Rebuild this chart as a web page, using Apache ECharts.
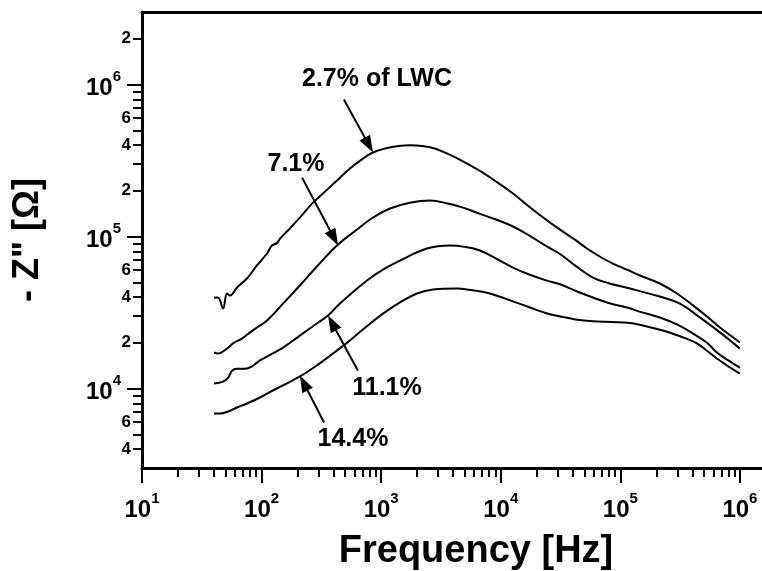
<!DOCTYPE html>
<html>
<head>
<meta charset="utf-8">
<script src="https://cdn.jsdelivr.net/npm/echarts@6/dist/echarts.min.js"></script>
<style>
  html, body { margin: 0; padding: 0; background: #fff; }
  #chart { width: 762px; height: 571px; }
</style>
</head>
<body>
<div id="chart"></div>
<script>
// Impedance spectra (-Z'' vs frequency) for four liquid water contents
const seriesNames = ['2.7% of LWC', '7.1%', '11.1%', '14.4%'];

const lwc27 = [
  [40.0, 39500], [43.2, 39700], [47.6, 33600], [51.4, 42200], [54.4, 40900],
  [62.3, 46200], [75.5, 53000], [91.5, 64500], [111, 77300], [122, 87300],
  [134, 90500], [143, 97000], [166, 109500], [209, 133000], [269, 167000],
  [350, 202000], [450, 243000], [548, 280000], [700, 324000], [854, 357000],
  [1100, 381000], [1400, 394000], [1740, 398000], [2200, 394000], [2800, 379000],
  [3550, 352000], [4700, 316000], [6700, 270000], [9000, 232000], [12650, 192000],
  [17500, 156000], [24300, 128000], [31300, 111000], [42000, 95000], [52600, 83400],
  [70000, 72500], [86700, 66400], [115000, 60300], [146000, 55400], [214000, 49100],
  [297000, 42200], [400000, 35500], [530000, 29800], [681000, 25200], [850000, 22100],
  [1000000, 20100]
];

const lwc71 = [
  [40.0, 17250], [43.2, 17000], [51.4, 18300], [57.7, 19800], [68.5, 21300],
  [80, 23400], [91.5, 25200], [111, 28000], [151, 36200], [209, 47600],
  [290, 63500], [427, 87300], [628, 111200], [854, 133400], [1185, 152900],
  [1740, 167000], [2560, 172500], [3600, 165000], [4830, 155000], [6700, 141000],
  [9000, 130000], [12650, 116400], [17500, 101000], [24300, 86000], [31300, 76700],
  [42000, 64300], [59000, 53700], [80000, 49300], [113600, 46000], [150000, 43400],
  [214000, 40300], [315000, 36200], [463000, 29300], [681000, 23400], [1000000, 18300]
];

const lwc111 = [
  [40.0, 10800], [47.6, 11100], [52.6, 11800], [56.6, 13100], [62.3, 13500],
  [72.9, 13500], [83.3, 14000], [97, 15300], [151, 18600], [209, 22300],
  [290, 26800], [359, 30200], [452, 36200], [761, 51300], [1050, 61000],
  [1436, 69500], [2415, 83400], [3760, 87300], [5000, 85500], [6700, 80900],
  [9000, 72000], [12650, 62500], [17500, 56000], [24300, 51300], [31300, 48500],
  [42000, 44000], [59000, 39700], [80000, 36500], [113600, 34100], [150000, 31800],
  [214000, 29300], [300000, 26300], [405000, 23000], [530000, 20000], [642000, 17250],
  [800000, 15300], [1000000, 13700]
];

const lwc144 = [
  [40.0, 6850], [44.9, 6850], [52.6, 7060], [62.3, 7500], [75.5, 7970],
  [97, 8730], [111, 9270], [151, 10500], [209, 12000], [290, 14200],
  [395, 17000], [548, 20700], [750, 25500], [1035, 31100], [1450, 37000],
  [1992, 42200], [2711, 44800], [4300, 45500], [5800, 44300], [8120, 42200],
  [12000, 38000], [17540, 34100], [24000, 31300], [31300, 29800], [42000, 28500],
  [59000, 27700], [85000, 27400], [120300, 27000], [160000, 25800], [227000, 24100],
  [320000, 22000], [437000, 19800], [642000, 15760], [800000, 14000], [1000000, 12550]
];

// Tick values
const xDecades = [10, 100, 1e3, 1e4, 1e5, 1e6];
const yDecades = [1e4, 1e5, 1e6];
const yMinorLabelValues = [4e3, 6e3, 2e4, 4e4, 6e4, 2e5, 4e5, 6e5, 2e6];

// Callout texts with their arrows (data coordinates)
const callouts = [
  { text: '2.7% of LWC', at: [923, 1.08e6], from: [488, 796000], to: [854, 357000] },
  { text: '7.1%',        at: [194, 298000], from: [218, 244000], to: [436, 87300] },
  { text: '11.1%',       at: [1118, 10000], from: [640, 13100],  to: [359, 30200] },
  { text: '14.4%',       at: [581, 4620],   from: [333, 5970],   to: [209, 12200] }
];

const FONT = '"Liberation Sans", Arial, Helvetica, sans-serif';
const X_MIN = 10, X_MAX = 1.53e6, Y_MIN = 3000, Y_MAX = 3e6;

function minorTicks(lo, hi) {
  const out = [];
  for (let d = lo; d < hi; d *= 10) {
    for (let m = 2; m <= 9; m++) out.push(m * d);
  }
  return out;
}
const xMinor = minorTicks(10, 1e6);
const yMinor = [4e3, 5e3, 6e3, 7e3, 8e3, 9e3].concat(minorTicks(1e4, 1e6), [2e6]);

function powLabel(v) {
  const e = Math.round(Math.log10(v));
  return '{b|10}{s|' + e + '}';
}
function mantissaLabel(v) {
  const e = Math.floor(Math.log10(v) + 1e-9);
  return String(Math.round(v / Math.pow(10, e)));
}

const powRich = {
  b: { fontSize: 24, fontWeight: 'bold', fontFamily: FONT, color: '#000', verticalAlign: 'bottom', lineHeight: 31 },
  s: { fontSize: 15, fontWeight: 'bold', fontFamily: FONT, color: '#000', verticalAlign: 'top', lineHeight: 15 }
};

const black = '#000';

const chart = echarts.init(document.getElementById('chart'), null, { renderer: 'canvas' });

const option = {
  animation: false,
  backgroundColor: '#fff',
  grid: { left: 142, top: 12, right: 0, bottom: 103, show: false, outerBoundsMode: 'none', containLabel: false },
  xAxis: [
    {
      type: 'log', logBase: 10, min: X_MIN, max: X_MAX, position: 'bottom',
      axisLine: { show: true, lineStyle: { color: black, width: 3 } },
      axisTick: { show: true, length: 15, lineStyle: { color: black, width: 2 }, customValues: xDecades },
      axisLabel: { show: true, customValues: xDecades, margin: 23, formatter: powLabel, rich: powRich },
      splitLine: { show: false },
      name: 'Frequency [Hz]', nameLocation: 'middle', nameGap: 65,
      nameTextStyle: { fontSize: 38, fontWeight: 'bold', fontFamily: FONT, color: black, padding: [0, 0, 0, 48] }
    },
    {
      type: 'log', logBase: 10, min: X_MIN, max: X_MAX, position: 'bottom',
      axisLine: { show: false },
      axisTick: { show: true, length: 9, lineStyle: { color: black, width: 2 }, customValues: xMinor },
      axisLabel: { show: false },
      splitLine: { show: false }
    },
    {
      // frame line along the top of the plot
      type: 'log', logBase: 10, min: X_MIN, max: X_MAX, position: 'top',
      axisLine: { show: true, lineStyle: { color: black, width: 3 } },
      axisTick: { show: false }, axisLabel: { show: false }, splitLine: { show: false }
    }
  ],
  yAxis: [
    {
      type: 'log', logBase: 10, min: Y_MIN, max: Y_MAX, position: 'left',
      axisLine: { show: true, lineStyle: { color: black, width: 3 } },
      axisTick: { show: true, length: 15, lineStyle: { color: black, width: 2 }, customValues: yDecades },
      axisLabel: { show: true, customValues: yDecades, margin: 21, formatter: powLabel, rich: powRich },
      splitLine: { show: false },
      name: '- Z" [\u03A9]', nameLocation: 'middle', nameGap: 96, nameRotate: 90,
      nameTextStyle: { fontSize: 36, fontWeight: 'bold', fontFamily: FONT, color: black }
    },
    {
      type: 'log', logBase: 10, min: Y_MIN, max: Y_MAX, position: 'left',
      axisLine: { show: false },
      axisTick: { show: true, length: 9, lineStyle: { color: black, width: 2 }, customValues: yMinor },
      axisLabel: {
        show: true, customValues: yMinorLabelValues, margin: 11, formatter: mantissaLabel,
        fontSize: 17, fontWeight: 'bold', fontFamily: FONT, color: black
      },
      splitLine: { show: false }
    }
  ],
  series: [lwc27, lwc71, lwc111, lwc144].map(function (d, i) {
    return {
      name: seriesNames[i], type: 'line', data: d,
      xAxisIndex: 0, yAxisIndex: 0,
      showSymbol: false, symbol: 'none', smooth: 0.4,
      lineStyle: { color: black, width: 2 }, silent: true
    };
  })
};

chart.setOption(option);

// Callout arrows and texts, placed through the axis scales
function drawCallouts() {
  const els = [];
  const headLen = 17, headHalf = 6;
  callouts.forEach(function (c) {
    const p0 = chart.convertToPixel({ xAxisIndex: 0, yAxisIndex: 0 }, c.from);
    const p1 = chart.convertToPixel({ xAxisIndex: 0, yAxisIndex: 0 }, c.to);
    const pt = chart.convertToPixel({ xAxisIndex: 0, yAxisIndex: 0 }, c.at);
    const dx = p1[0] - p0[0], dy = p1[1] - p0[1];
    const len = Math.sqrt(dx * dx + dy * dy);
    const ux = dx / len, uy = dy / len;
    const bx = p1[0] - ux * headLen, by = p1[1] - uy * headLen;
    els.push({
      type: 'line', silent: true,
      shape: { x1: p0[0], y1: p0[1], x2: bx + ux * 2, y2: by + uy * 2 },
      style: { stroke: black, lineWidth: 2 }
    });
    els.push({
      type: 'polygon', silent: true,
      shape: { points: [[p1[0], p1[1]], [bx - uy * headHalf, by + ux * headHalf], [bx + uy * headHalf, by - ux * headHalf]] },
      style: { fill: black }
    });
    els.push({
      type: 'text', silent: true, x: pt[0], y: pt[1],
      style: {
        text: c.text, fill: black, font: 'bold 25px ' + FONT,
        align: 'center', verticalAlign: 'middle'
      }
    });
  });
  chart.setOption({ graphic: els });
}
drawCallouts();
</script>
</body>
</html>
